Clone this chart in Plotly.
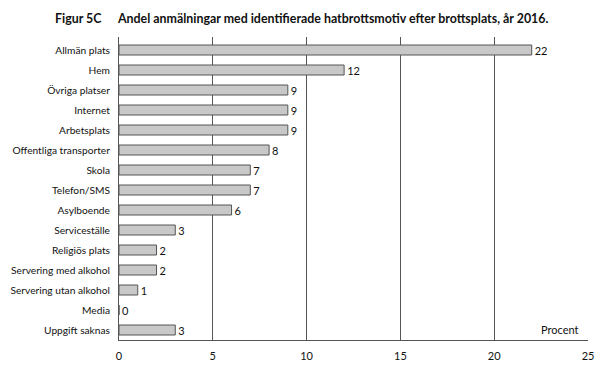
import plotly.graph_objects as go

categories = ["Allmän plats", "Hem", "Övriga platser", "Internet", "Arbetsplats",
              "Offentliga transporter", "Skola", "Telefon/SMS", "Asylboende",
              "Serviceställe", "Religiös plats", "Servering med alkohol",
              "Servering utan alkohol", "Media", "Uppgift saknas"]
values = [22, 12, 9, 9, 9, 8, 7, 7, 6, 3, 2, 2, 1, 0, 3]
x_ticks = [0, 5, 10, 15, 20, 25]

FONT = "Lato"
# page has an 8px body margin; figure coordinates are page minus 8
W, H = 598, 364
L, R, T, B = 111, 18, 29, 32
PW, PH = W - L - R, H - T - B

fig = go.Figure(go.Bar(
    x=values, y=categories, orientation="h",
    marker=dict(color="#c8c8c8", line=dict(color="#555555", width=1)),
    text=[str(v) for v in values], textposition="outside",
    textfont=dict(family=FONT, size=11, color="#111111"),
    constraintext="none",
    cliponaxis=False, width=0.5,
))

fig.update_layout(
    width=W, height=H,
    margin=dict(l=L, r=R, t=T, b=B),
    paper_bgcolor="white", plot_bgcolor="white",
    showlegend=False,
    font=dict(family=FONT, size=11, color="#111111"),
    xaxis=dict(range=[0, 25], tickvals=x_ticks, showgrid=True, gridcolor="#555555",
               gridwidth=1, zeroline=False, showline=True, linecolor="#555555",
               linewidth=1, ticks="", ticklabelstandoff=6, automargin=False,
               tickfont=dict(family=FONT, size=11)),
    yaxis=dict(range=[len(categories) - 0.5, -0.65], showline=True,
               linecolor="#555555", linewidth=1,
               ticks="", showgrid=False, ticklabelstandoff=6, automargin=False,
               tickfont=dict(family=FONT, size=10.2)),
)

title_y = 1 + (T - 10) / PH
fig.add_annotation(text="<b>Figur 5C</b>", xref="paper", yref="paper",
                   x=(45 - L) / PW, y=title_y, xanchor="left", yanchor="middle",
                   showarrow=False, font=dict(family=FONT, size=12.4))
fig.add_annotation(text="<b>Andel anmälningar med identifierade hatbrottsmotiv efter brottsplats, år 2016.</b>",
                   xref="paper", yref="paper", x=(107 - L) / PW, y=title_y, xanchor="left",
                   yanchor="middle", showarrow=False, font=dict(family=FONT, size=12.4))
fig.add_annotation(text="Procent", xref="paper", yref="paper", x=0.985, y=0.005,
                   xanchor="right", yanchor="bottom", showarrow=False,
                   font=dict(family=FONT, size=11))

fig.write_html("out.html")
